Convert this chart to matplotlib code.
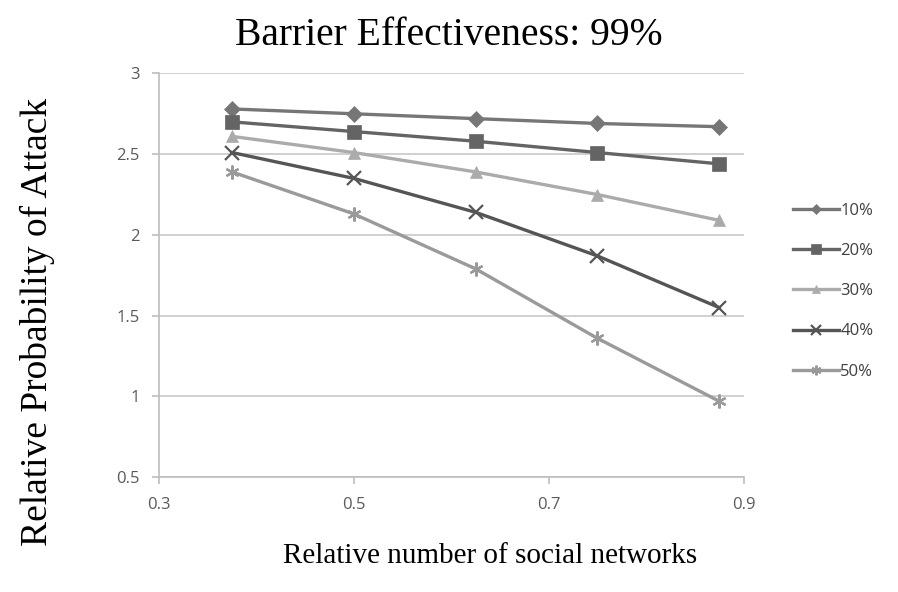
import matplotlib.pyplot as plt

# data
x_vals = [0.375, 0.5, 0.625, 0.75, 0.875]
labels = ["10%", "20%", "30%", "40%", "50%"]
s10 = [2.78, 2.75, 2.72, 2.69, 2.67]
s20 = [2.70, 2.64, 2.58, 2.51, 2.44]
s30 = [2.61, 2.51, 2.39, 2.25, 2.09]
s40 = [2.51, 2.35, 2.14, 1.87, 1.55]
s50 = [2.39, 2.13, 1.79, 1.36, 0.97]
x_ticks = [0.3, 0.5, 0.7, 0.9]
y_ticks = [0.5, 1, 1.5, 2, 2.5, 3]

series = [s10, s20, s30, s40, s50]
colors = ["#767676", "#646464", "#ababab", "#555555", "#9a9a9a"]
markers = ["D", "s", "^", "x", (6, 2, 0)]
msizes = [8, 10, 9, 10, 10]

fig = plt.figure(figsize=(8.98, 5.92), dpi=100)
ax = fig.add_axes([0.177, 0.194, 0.651, 0.682])

for vals, lab, c, m, ms in zip(series, labels, colors, markers, msizes):
    ax.plot(x_vals, vals, color=c, lw=2.4, marker=m, markersize=ms,
            markeredgewidth=1.6 if m in ("x", (6, 2, 0)) else 0.5,
            markeredgecolor=c, label=lab)

ax.set_xlim(0.3, 0.9)
ax.set_ylim(0.5, 3)
ax.set_xticks(x_ticks)
ax.set_xticklabels([str(t) for t in x_ticks])
ax.set_yticks(y_ticks)
ax.set_yticklabels(["0.5", "1", "1.5", "2", "2.5", "3"])
ax.yaxis.grid(True, color="#c8c8c8", lw=1.2)
ax.set_axisbelow(True)
for s in ["top", "right"]:
    ax.spines[s].set_visible(False)
for s in ["left", "bottom"]:
    ax.spines[s].set_color("#bdbdbd")
    ax.spines[s].set_linewidth(1.2)
ax.tick_params(colors="#bdbdbd", labelcolor="#5a5a5a", labelsize=12,
               length=5, width=1.2, pad=9)
for t in ax.get_xticklabels() + ax.get_yticklabels():
    t.set_family("Open Sans")

serif = "Liberation Serif"
fig.text(0.5, 0.94, "Barrier Effectiveness: 99%", family=serif,
         fontsize=28.5, ha="center", va="center")
fig.text(0.042, 0.456, "Relative Probability of Attack", family=serif,
         fontsize=27, rotation=90, ha="center", va="center")
fig.text(0.546, 0.06, "Relative number of social networks", family=serif,
         fontsize=21, ha="center", va="center")

leg = fig.legend(loc="center left", bbox_to_anchor=(0.866, 0.508),
                 frameon=False, handlelength=2.75, handletextpad=0.1,
                 labelspacing=1.45, markerscale=0.7,
                 prop={"family": "Open Sans", "size": 12})
for t in leg.get_texts():
    t.set_color("#404040")

fig.savefig("out.png", dpi=100)
